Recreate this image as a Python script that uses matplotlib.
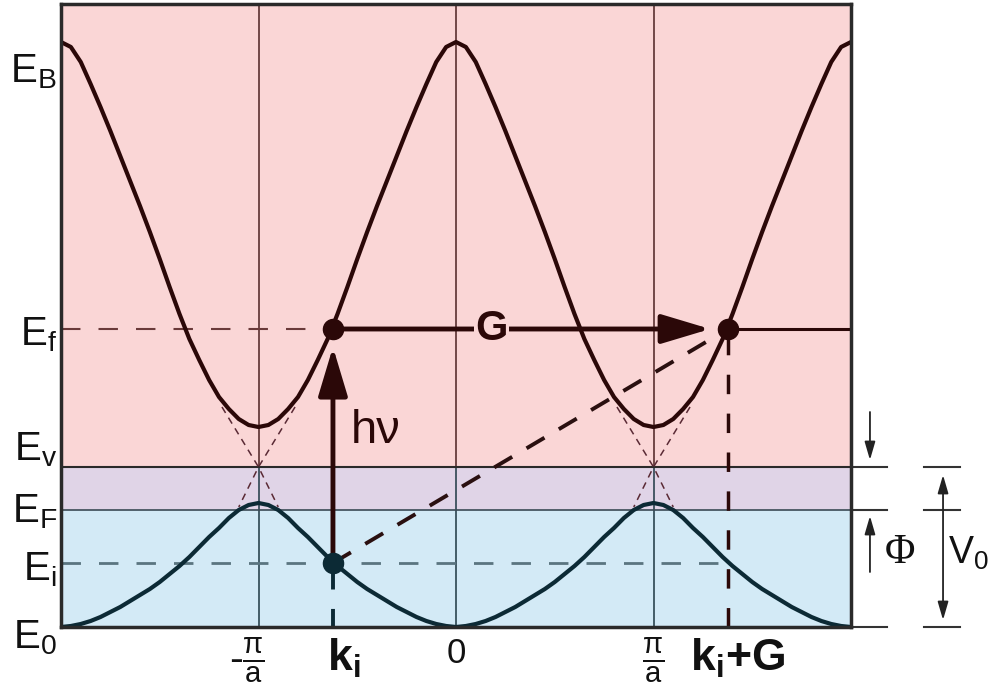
import numpy as np
import matplotlib.pyplot as plt

plt.rcParams['font.family'] = ['Liberation Sans', 'DejaVu Sans']
plt.rcParams['mathtext.fontset'] = 'custom'
plt.rcParams['mathtext.rm'] = 'Liberation Sans'
plt.rcParams['mathtext.it'] = 'Liberation Sans:italic'
plt.rcParams['mathtext.bf'] = 'Liberation Sans:bold'
plt.rcParams['lines.scale_dashes'] = False

# band profile, vs distance from zone centre (units of pi/a)
dk = [0.00, 0.05, 0.10, 0.15, 0.20, 0.25, 0.30, 0.35, 0.40, 0.45, 0.50,
      0.55, 0.60, 0.65, 0.70, 0.75, 0.80, 0.85, 0.90, 0.95, 1.00]
upper_band = [5.85, 5.80, 5.65, 5.43, 5.20, 4.96, 4.71, 4.46, 4.21, 3.95, 3.68,
              3.40, 3.13, 2.88, 2.67, 2.47, 2.30, 2.18, 2.08, 2.02, 2.00]
lower_band = [0.00, 0.01, 0.03, 0.06, 0.10, 0.15, 0.20, 0.26, 0.32, 0.38, 0.45,
              0.53, 0.61, 0.70, 0.80, 0.90, 0.99, 1.09, 1.17, 1.22, 1.24]

# free electron branches near the gap (offset from zone boundary, energy)
gap_dk = [0.185, 0.0, -0.10]
gap_E = [2.20, 1.60, 1.20]

# energy levels
E_B = 5.85
E_f = 2.98
E_v = 1.60
E_F = 1.17
E_i = 0.64
E_0 = 0.0
E_top = 6.23

k_i = -0.623
G = 2.0
zone_lines = [-1, 0, 1]

level_labels = [r'$\mathregular{E_B}$', r'$\mathregular{E_f}$', r'$\mathregular{E_v}$',
                r'$\mathregular{E_F}$', r'$\mathregular{E_i}$', r'$\mathregular{E_0}$']
level_label_y = [5.45, 2.82, 1.67, 1.05, 0.47, -0.21]

pink = '#fad6d6'
purple = '#e0d4e7'
blue = '#d3eaf6'
brown = '#2b0808'
navy = '#0c2a35'


def periodic(profile):
    d = np.array(dk)
    p = np.array(profile)
    k = np.concatenate([-2 + d, -d[::-1][1:], d[1:], 2 - d[::-1][1:]])
    e = np.concatenate([p, p[::-1][1:], p[1:], p[::-1][1:]])
    return k, e


fig = plt.figure(figsize=(9.92, 6.96), dpi=100)
ax = fig.add_axes([61 / 992, 1 - 627 / 696, 790 / 992, 623 / 696])
ax.set_xlim(-2, 2)
ax.set_ylim(E_0, E_top)

# coloured energy regions
ax.axhspan(E_v, E_top, color=pink, zorder=0)
ax.axhspan(E_F, E_v, color=purple, zorder=0)
ax.axhspan(E_0, E_F, color=blue, zorder=0)

# zone boundaries / centre
for z in zone_lines:
    ax.plot([z, z], [E_v, E_top], color='#5a3030', lw=1.2, zorder=1)
    ax.plot([z, z], [E_0, E_v], color='#2c4550', lw=1.2, zorder=1)

ax.axhline(E_v, color='#2a2a2a', lw=1.5, zorder=1)
ax.axhline(E_F, color='#3a4a55', lw=1.2, zorder=1)

# dashed guide lines
ax.plot([-2, k_i], [E_f, E_f], color='#6a3a3a', lw=1.5, ls=(0, (14, 13)), zorder=2)
ax.plot([k_i + G, 2], [E_f, E_f], color=brown, lw=2.2, zorder=2)
ax.plot([-2, k_i + G], [E_i, E_i], color='#5a7580', lw=2.0, ls=(0, (14, 13)), zorder=2)
ax.plot([k_i, k_i], [E_0, E_i], color=navy, lw=2.8, ls=(0, (13, 14)), zorder=2)
ax.plot([k_i + G, k_i + G], [E_0, E_f], color=brown, lw=2.5, ls=(0, (14, 14)), zorder=2)
ax.plot([k_i, k_i + G], [E_i, E_f], color='#2a1010', lw=2.8, ls=(0, (15, 12)), zorder=2)

# free electron parabolas crossing at the zone boundary
for z in [-1, 1]:
    for s in [-1, 1]:
        ax.plot([z + s * g for g in gap_dk], gap_E, color='#5a2a35', lw=1.1,
                ls=(0, (5, 4)), zorder=2)

# bands
ku, eu = periodic(upper_band)
kl, el = periodic(lower_band)
ax.plot(ku, eu, color=brown, lw=3.0, solid_joinstyle='round', zorder=3)
ax.plot(kl, el, color=navy, lw=3.0, solid_joinstyle='round', zorder=3)

# transitions
ax.annotate('', xy=(k_i, E_f - 0.18), xytext=(k_i, E_i),
            arrowprops=dict(arrowstyle='-|>,head_length=1.5,head_width=0.45',
                            mutation_scale=20, lw=3.5, color=brown,
                            shrinkA=0, shrinkB=0), zorder=4)
ax.annotate('', xy=(k_i + G - 0.09, E_f), xytext=(k_i, E_f),
            arrowprops=dict(arrowstyle='-|>,head_length=1.5,head_width=0.45',
                            mutation_scale=20, lw=3.5, color=brown,
                            shrinkA=0, shrinkB=0), zorder=4)
ax.text(0.18, E_f, 'G', fontsize=30, fontweight='bold', color=brown, ha='center',
        va='center', zorder=5, bbox=dict(facecolor=pink, edgecolor='none', pad=1))
ax.text(k_i + 0.09, 1.84, 'hν', fontsize=34, color=brown, ha='left', va='baseline', zorder=5)

ax.scatter([k_i, k_i + G], [E_f, E_f], s=210, color=brown, zorder=6)
ax.scatter([k_i], [E_i], s=210, color=navy, zorder=6)

# level labels on the left
for lab, y in zip(level_labels, level_label_y):
    ax.text(-2.02, y, lab, fontsize=29, ha='right', va='baseline', color='#111111',
            clip_on=False)

# k labels below
frac = r'$\frac{\mathregular{π}}{\mathregular{a}}$'
ax.text(-1.06, -0.09, '-' + frac, fontsize=30, ha='center', va='top', color='#111111')
ax.text(k_i - 0.03, -0.10, r'$\mathbf{k_i}$', fontsize=32, ha='left', va='top', color='#111111')
ax.text(0, -0.10, '0', fontsize=25, ha='center', va='top', color='#111111')
ax.text(1, -0.09, frac, fontsize=30, ha='center', va='top', color='#111111')
ax.text(k_i + G - 0.19, -0.10, r'$\mathbf{k_i{+}G}$', fontsize=32, ha='left', va='top',
        color='#111111')

# work function / inner potential markers on the right
for e in [E_v, E_F, E_0]:
    ax.plot([2.01, 2.18], [e, e], color='#333333', lw=1.5, clip_on=False)
    ax.plot([2.37, 2.55], [e, e], color='#333333', lw=1.5, clip_on=False)
thin = dict(mutation_scale=10, lw=1.3, color='#222222', shrinkA=0, shrinkB=0)
ax.annotate('', xy=(2.096, E_v + 0.07), xytext=(2.096, 2.15),
            arrowprops=dict(arrowstyle='-|>,head_length=1.1,head_width=0.32', **thin),
            annotation_clip=False)
ax.annotate('', xy=(2.096, E_F - 0.06), xytext=(2.096, 0.55),
            arrowprops=dict(arrowstyle='-|>,head_length=1.1,head_width=0.32', **thin),
            annotation_clip=False)
ax.annotate('', xy=(2.466, E_v - 0.08), xytext=(2.466, E_0 + 0.07),
            arrowprops=dict(arrowstyle='<|-|>,head_length=1.1,head_width=0.32', **thin),
            annotation_clip=False)
ax.text(2.25, 0.74, 'Φ', fontsize=30, family=['Liberation Serif', 'DejaVu Serif'],
        ha='center', va='center', color='#111111', clip_on=False)
ax.text(2.49, 0.74, r'$\mathregular{V_0}$', fontsize=27, ha='left', va='center',
        color='#111111', clip_on=False)

for sp in ax.spines.values():
    sp.set_linewidth(2.5)
    sp.set_color('#2a2a2a')
    sp.set_zorder(7)
ax.set_xticks([])
ax.set_yticks([])

fig.savefig('out.png', dpi=100)
